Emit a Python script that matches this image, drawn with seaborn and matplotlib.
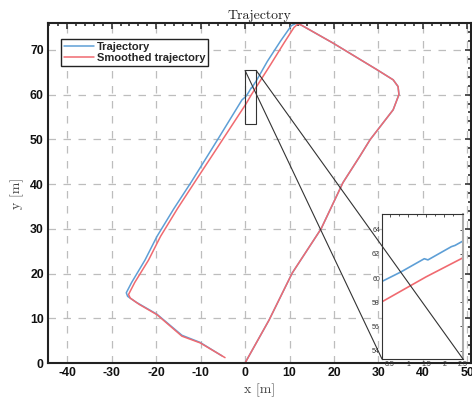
import numpy as np
import pandas as pd
import matplotlib
matplotlib.use("Agg")
import matplotlib.pyplot as plt
from matplotlib.patches import Rectangle, ConnectionPatch
from matplotlib.ticker import MultipleLocator, FixedLocator
import seaborn as sns

# ---- data ----
traj_x = [0, 5.4, 10.6, 17.1, 22.0, 25.8, 28.1, 33.3, 34.6, 34.4, 33.3, 29.6, 19.8, 12.7, 11.6,
          10.4, 8.0, 5.0, 2.6, 2.3, 2.2, 1.55, 1.45, 0.8, 0.2, -0.7, -6.0, -12.0, -16.0, -19.8,
          -22.5, -25.5, -26.7, -26.4, -24.5, -19.8, -14.2, -10.1, -5.2]
traj_y = [0, 9.6, 20.1, 30.0, 40.3, 46.2, 49.9, 56.6, 60.0, 61.8, 63.3, 65.6, 71.5, 75.5, 76.0,
          75.4, 72.0, 67.4, 63.2, 62.7, 62.6, 61.5, 61.6, 60.5, 59.6, 58.8, 50.2, 40.6, 34.5, 28.3,
          23.0, 18.0, 15.7, 14.9, 13.6, 10.9, 6.2, 4.6, 1.6]

smooth_x = [0, 5.4, 10.6, 17.1, 22.0, 25.8, 28.1, 33.3, 34.6, 34.4, 33.3, 29.6, 19.8, 12.7, 11.9,
            11.0, 8.8, 5.8, 2.6, 1.5, 0.2, -5.2, -11.2, -15.2, -19.0,
            -21.7, -24.8, -26.2, -25.8, -23.8, -19.8, -14.2, -10.1, -4.5]
smooth_y = [0, 9.6, 20.1, 30.0, 40.3, 46.2, 49.9, 56.6, 60.0, 61.8, 63.3, 65.6, 71.5, 75.5, 75.8,
            75.0, 71.6, 66.8, 61.8, 60.1, 57.9, 49.7, 40.6, 34.5, 28.3,
            23.0, 18.0, 15.3, 14.5, 13.1, 10.8, 6.0, 4.5, 1.2]

zoom_x = [0.0, 2.5]
zoom_y = [53.5, 65.4]
inset_xlim = [0.28, 2.52]
inset_ylim = [53.3, 65.3]

x_ticks = [-40, -30, -20, -10, 0, 10, 20, 30, 40, 50]
y_ticks = [0, 10, 20, 30, 40, 50, 60, 70]
inset_xticks = [0.5, 1, 1.5, 2, 2.5]
inset_xticklabels = ["0.5", "1", "1.5", "2", "2.5"]
inset_yticks = [54, 56, 58, 60, 62, 64]

series_names = ["Trajectory", "Smoothed trajectory"]

BLUE = "#5E9FD6"
RED = "#F06A70"

sns.set_theme(style="white")
plt.rcParams["axes.unicode_minus"] = False
plt.rcParams["font.family"] = ["Liberation Sans", "DejaVu Sans"]

fig = plt.figure(figsize=(4.72, 4.0), dpi=100)
ax = fig.add_axes([48/472, 37/400, 423/472, 340/400])

df_t = pd.DataFrame({"x": traj_x, "y": traj_y})
df_s = pd.DataFrame({"x": smooth_x, "y": smooth_y})
sns.lineplot(data=df_t, x="x", y="y", sort=False, estimator=None, color=BLUE, lw=1.1,
             label=series_names[0], ax=ax)
sns.lineplot(data=df_s, x="x", y="y", sort=False, estimator=None, color=RED, lw=1.1,
             label=series_names[1], ax=ax)

ax.set_xlim(-44.3, 50.8)
ax.set_ylim(0, 76)
ax.xaxis.set_major_locator(FixedLocator(x_ticks))
ax.yaxis.set_major_locator(FixedLocator(y_ticks))
ax.xaxis.set_minor_locator(MultipleLocator(2))
ax.yaxis.set_minor_locator(MultipleLocator(2))
ax.tick_params(which="both", direction="in", top=True, right=True, color="#222222", width=1.1)
ax.tick_params(which="major", length=4.5, labelsize=8.8, pad=3)
ax.tick_params(which="minor", length=2.5)
for lab in ax.get_xticklabels() + ax.get_yticklabels():
    lab.set_fontweight("bold")
    lab.set_color("#111111")
for s in ax.spines.values():
    s.set_color("#222222")
    s.set_linewidth(1.5)
ax.grid(True, which="major", color="#bdbdbd", lw=0.9, ls=(0, (6, 6)))
ax.set_axisbelow(True)

ax.set_title("Trajectory", fontfamily="cmr10", fontsize=10, pad=3, color="#222222")
ax.set_xlabel("x [m]", fontfamily="cmr10", fontsize=10, labelpad=3, color="#444444")
ax.set_ylabel("y [m]", fontfamily="cmr10", fontsize=10, labelpad=4, color="#444444")

leg = ax.legend(loc="upper left", bbox_to_anchor=(0.025, 0.96), fancybox=False, framealpha=1,
                edgecolor="#222222", prop={"weight": "bold", "size": 8},
                handlelength=2.7, borderpad=0.25, labelspacing=0.15, handletextpad=0.3,
                borderaxespad=0.2)
leg.get_frame().set_linewidth(1.0)

ax.add_patch(Rectangle((zoom_x[0], zoom_y[0]), zoom_x[1]-zoom_x[0], zoom_y[1]-zoom_y[0],
                       fill=False, ec="#333333", lw=0.8, zorder=5))

# inset
axi = fig.add_axes([382/472, 41/400, 81/472, 145/400])
sns.lineplot(data=df_t, x="x", y="y", sort=False, estimator=None, color=BLUE, lw=1.2, ax=axi)
sns.lineplot(data=df_s, x="x", y="y", sort=False, estimator=None, color=RED, lw=1.2, ax=axi)
axi.set_xlim(*inset_xlim)
axi.set_ylim(*inset_ylim)
axi.set_xlabel("")
axi.set_ylabel("")
axi.xaxis.set_major_locator(FixedLocator(inset_xticks))
axi.set_xticklabels(inset_xticklabels)
axi.yaxis.set_major_locator(FixedLocator(inset_yticks))
axi.xaxis.set_minor_locator(MultipleLocator(0.25))
axi.tick_params(which="both", direction="in", top=True, right=True, color="#333333", width=0.6)
axi.tick_params(which="major", length=2.5, labelsize=5, pad=1.5, labelcolor="#333333")
axi.tick_params(which="minor", length=1.5)
for s in axi.spines.values():
    s.set_color("#333333")
    s.set_linewidth(0.8)
axi.spines["right"].set_color("#aaaaaa")
axi.spines["right"].set_linewidth(1.5)

for (xa, xb) in [(zoom_x[0], 0.0), (zoom_x[1], 1.0)]:
    con = ConnectionPatch(xyA=(xa, zoom_y[1]), coordsA=ax.transData,
                          xyB=(xb, 0.0), coordsB=axi.transAxes,
                          color="#333333", lw=0.8, zorder=10)
    fig.add_artist(con)

fig.savefig("out.png", dpi=100)
